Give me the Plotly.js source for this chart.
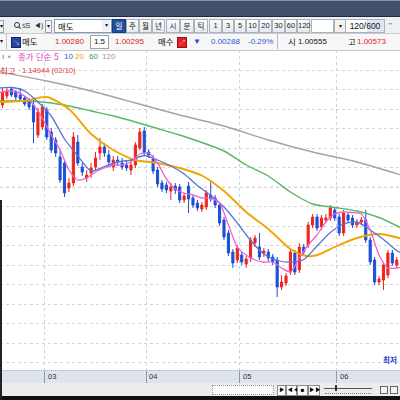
<!DOCTYPE html>
<html lang="ko"><head><meta charset="utf-8">
<script src="https://cdn.plot.ly/plotly-3.0.1.min.js"></script>
<style>
html,body{margin:0;padding:0;}
body{width:400px;height:400px;overflow:hidden;position:relative;background:#fff;font-family:"Liberation Sans",Arial,sans-serif;color:#111;}
.a{position:absolute;white-space:nowrap;}
.k{font-family:"Noto Sans CJK KR","Noto Sans",sans-serif;}
.btn{position:absolute;top:19px;height:12px;border:1px solid #aab2bd;background:linear-gradient(#fdfdfd,#e6e9ed);font-size:7.5px;line-height:12px;text-align:center;color:#222;}
.r2{position:absolute;top:35px;height:13px;line-height:13px;font-size:8px;white-space:nowrap;}
.bb{position:absolute;top:385px;height:9px;border:1px solid #8c8c8c;background:#fafafa;font-size:6px;line-height:9px;text-align:center;color:#000;}
</style></head><body>
<div class="a" style="left:0;top:370px;width:400px;height:12px;background:#dde4ed;border-top:1px dotted #aab4c0;border-bottom:1px solid #a9b1bb;"></div>
<div id="chart" class="a" style="left:0;top:0;width:400px;height:400px;"></div>

<!-- top bar -->
<div class="a" style="left:0;top:0;width:400px;height:15px;background:#435069;border-top:1px solid #8a95a8;border-bottom:1px solid #1e2b44;"></div>
<div class="a" style="left:0;top:17px;width:400px;height:16px;background:#eff0f2;"></div>
<div class="a" style="left:0;top:20px;width:3px;height:11px;border:1px solid #9aa3ae;border-left:none;background:#f4f4f4;font-size:6px;line-height:11px;">▾</div>
<div class="a" style="left:14px;top:22px;width:4px;height:4px;border:1.3px solid #333;border-radius:50%;"></div>
<div class="a" style="left:18px;top:27px;width:3px;height:1.3px;background:#333;transform:rotate(45deg);"></div>
<div class="a" style="left:22px;top:19px;font-size:8px;line-height:13px;color:#333;">ꜱ</div>
<div class="a" style="left:25px;top:19px;font-size:8px;line-height:13px;color:#333;">S</div>
<div class="a" style="left:34px;top:19px;font-size:7px;line-height:13px;color:#333;">◀)</div>
<div class="a" style="left:45px;top:20px;width:5px;height:11px;border:1px solid #9aa3ae;background:#f4f4f4;font-size:6px;line-height:11px;text-align:center;">▾</div>
<div class="a" style="left:54px;top:19px;width:56px;height:12px;border:1px solid #7f9db9;background:#fff;"></div>
<div class="a k" style="left:58px;top:19px;font-size:8.5px;line-height:14px;">매도</div>
<div class="a" style="left:102px;top:20px;width:8px;height:11px;background:#eef0f4;font-size:6px;line-height:11px;text-align:center;">▾</div>
<div class="btn k" style="left:112px;width:12px;background:#23509e;color:#fff;border-color:#183a78;">일</div>
<div class="btn k" style="left:126px;width:11px;">주</div>
<div class="btn k" style="left:139px;width:11px;">월</div>
<div class="btn k" style="left:152px;width:11px;">년</div>
<div class="btn k" style="left:166px;width:12px;">시</div>
<div class="btn k" style="left:180px;width:12px;">분</div>
<div class="btn k" style="left:194px;width:12px;">틱</div>
<div class="btn" style="left:209px;width:11px;">1</div>
<div class="btn" style="left:222px;width:10px;">3</div>
<div class="btn" style="left:234px;width:10px;">5</div>
<div class="btn" style="left:246px;width:11px;">10</div>
<div class="btn" style="left:259px;width:11px;">20</div>
<div class="btn" style="left:272px;width:11px;">30</div>
<div class="btn" style="left:285px;width:10px;">60</div>
<div class="btn" style="left:297px;width:11px;">120</div>
<div class="a" style="left:311px;top:19px;width:21px;height:12px;border:1px solid #aab2bd;background:#fff;"></div>
<div class="a" style="left:334px;top:19px;width:10px;height:12px;border:1px solid #aab2bd;background:#f2f2f2;font-size:6px;line-height:12px;text-align:center;">▾</div>
<div class="a" style="left:345px;top:19px;width:38px;height:12px;border:1px solid #aab2bd;background:linear-gradient(90deg,#fff 55%,#dfe6f1 56%);font-size:8.5px;line-height:12px;text-align:center;">120/600</div>
<div class="a" style="left:388px;top:19px;font-size:7px;line-height:13px;color:#333;">⁺⁺</div>

<!-- row 2 -->
<div class="a" style="left:0;top:33px;width:400px;height:16px;background:#f7f7f7;border-top:1px solid #c9cdd3;border-bottom:1px solid #c4c8ce;"></div>
<div class="r2" style="left:0;font-size:6px;">▾</div>
<div class="a" style="left:6px;top:34px;width:1px;height:15px;background:#c0c4ca;"></div>
<div class="a" style="left:11px;top:37px;width:8px;height:9px;background:#2346a8;border:1px solid #112a70;color:#fff;font-size:7px;line-height:9px;text-align:center;">↘</div>
<div class="r2 k" style="left:22px;font-size:8.5px;">매도</div>
<div class="r2" style="left:55px;color:#e02020;">1.00280</div>
<div class="a" style="left:90px;top:35px;width:17px;height:12px;border:1px solid #9aa2ad;background:#fff;font-size:8px;line-height:12px;text-align:center;">1.5</div>
<div class="r2" style="left:115px;color:#e02020;">1.00295</div>
<div class="r2 k" style="left:158px;font-size:8.5px;">매수</div>
<div class="a" style="left:177px;top:37px;width:8px;height:9px;background:#e02424;border:1px solid #a01010;color:#fff;font-size:7px;line-height:9px;text-align:center;">↗</div>
<div class="r2" style="left:193px;color:#1a4ad8;font-size:8px;">▼</div>
<div class="r2" style="left:211px;color:#2a5ad8;">0.00288</div>
<div class="r2" style="left:248px;color:#2a5ad8;">-0.29%</div>
<div class="a" style="left:277px;top:34px;width:1px;height:15px;background:#b8bcc2;"></div>
<div class="r2 k" style="left:288px;font-size:8.5px;">시</div>
<div class="r2" style="left:298px;">1.00555</div>
<div class="r2 k" style="left:348px;font-size:8.5px;">고</div>
<div class="r2" style="left:357px;color:#e02020;">1.00573</div>

<!-- bottom -->
<div class="a" style="left:0;top:383px;width:400px;height:13px;background:#ececec;"></div>
<div class="a" style="left:212px;top:385px;width:60px;height:8px;border:1px dotted #999;background:#fbfbfb;"></div>
<div class="bb" style="left:277px;width:7px;">▶</div>
<div class="bb" style="left:286px;width:9px;">◀◀</div>
<div class="bb" style="left:297px;width:9px;">■</div>
<div class="bb" style="left:308px;width:10px;">▶▶</div>
<div class="a" style="left:324px;top:388px;width:48px;height:1px;background:#555;"></div>
<div class="a" style="left:335px;top:385px;width:2px;height:6px;background:#333;"></div>
<div class="a" style="left:325px;top:393px;width:46px;height:0;border-top:1px dotted #777;"></div>
<div class="a" style="left:380px;top:386px;width:6px;height:6px;border:1px solid #666;background:#f4f4f4;"></div>
<div class="a" style="left:390px;top:386px;width:6px;height:6px;border:1px solid #666;background:#f4f4f4;"></div>
<div class="a" style="left:0;top:396px;width:400px;height:4px;background:#111;"></div>
<div class="a" style="left:0;top:200px;width:1.5px;height:200px;background:#222;"></div>

<script>
// ---- data (daily candles, index 0 = first visible day) ----
const monthTickIdx = [9.5, 32.5, 53.5, 75.5];
const monthLabels = ['03', '04', '05', '06'];

const open = [1.131,1.140,1.147,1.144,1.141,1.138,1.136,1.131,1.101,1.109,
1.126,1.104,1.096,1.079,1.073,1.048,1.053,1.094,1.069,1.058,
1.063,1.069,1.083,1.089,1.081,1.069,1.076,1.073,1.071,1.066,
1.071,1.088,1.105,1.084,1.077,1.066,1.053,1.051,1.045,1.050,
1.049,1.036,1.050,1.038,1.033,1.027,1.029,1.041,1.038,1.031,
1.016,1.003,0.984,0.976,0.981,0.972,0.978,0.993,0.989,0.983,
0.984,0.979,0.976,0.949,0.953,0.964,0.983,0.966,0.989,0.991,
1.011,1.019,1.009,1.016,1.018,1.026,1.019,1.003,1.021,1.018,
1.011,1.014,1.016,0.996,0.976,0.954,0.956,0.961,0.983,0.971];
const high = [1.148,1.149,1.149,1.146,1.148,1.140,1.138,1.136,1.128,1.132,
1.129,1.108,1.099,1.086,1.076,1.058,1.104,1.101,1.073,1.066,
1.073,1.084,1.098,1.093,1.086,1.080,1.080,1.078,1.075,1.076,
1.094,1.108,1.109,1.087,1.081,1.069,1.056,1.054,1.053,1.053,
1.052,1.043,1.054,1.041,1.036,1.034,1.046,1.054,1.041,1.034,
1.019,1.006,0.987,0.991,0.984,0.980,0.999,1.001,1.003,0.988,
0.987,0.982,0.979,0.961,0.963,0.987,0.986,0.993,0.992,1.014,
1.022,1.022,1.021,1.022,1.031,1.029,1.022,1.026,1.024,1.021,
1.017,1.019,1.026,0.999,0.979,0.960,0.974,0.986,0.986,0.979];
const low = [1.128,1.137,1.139,1.136,1.135,1.130,1.126,1.093,1.098,1.106,
1.096,1.083,1.079,1.053,1.039,1.044,1.050,1.070,1.060,1.054,
1.058,1.065,1.076,1.079,1.070,1.065,1.070,1.066,1.065,1.061,
1.068,1.086,1.080,1.078,1.062,1.049,1.044,1.043,1.036,1.042,
1.033,1.033,1.023,1.028,1.025,1.024,1.026,1.034,1.028,1.010,
0.996,0.980,0.968,0.973,0.971,0.968,0.974,0.989,0.976,0.979,
0.975,0.971,0.939,0.946,0.950,0.961,0.961,0.963,0.981,0.988,
1.008,1.005,1.006,1.013,1.015,1.015,1.000,1.000,1.013,1.008,
1.008,1.011,0.993,0.971,0.951,0.951,0.946,0.958,0.970,0.968];
const close = [1.144,1.145,1.141,1.139,1.137,1.132,1.129,1.114,1.124,1.129,
1.099,1.086,1.083,1.056,1.043,1.053,1.099,1.073,1.064,1.061,
1.068,1.078,1.089,1.083,1.074,1.076,1.074,1.069,1.068,1.071,
1.091,1.104,1.083,1.081,1.065,1.052,1.047,1.046,1.049,1.046,
1.036,1.040,1.037,1.031,1.028,1.031,1.043,1.037,1.031,1.013,
0.999,0.983,0.973,0.988,0.974,0.977,0.996,0.998,0.979,0.985,
0.978,0.974,0.949,0.954,0.960,0.984,0.964,0.989,0.984,1.011,
1.019,1.008,1.018,1.018,1.028,1.018,1.003,1.023,1.016,1.011,
1.014,1.016,0.996,0.974,0.954,0.957,0.971,0.983,0.973,0.976];

// moving averages (day index, value)
const ma5Idx = [-1,1,3,5,7,9,11,13,15,17,19,21,23,25,27,29,31,33,35,37,39,41,43,45,47,49,51,53,55,57,59,61,63,65,67,69,71,73,75,77,79,81,83,85,87,89,90];
const ma5 = [1.143,1.145,1.1445,1.140,1.131,1.118,1.101,1.086,1.066,1.056,
1.058,1.064,1.068,1.071,1.071,1.074,1.082,1.083,1.073,1.057,
1.047,1.043,1.041,1.038,1.038,1.033,1.011,0.989,0.981,0.976,
0.974,0.974,0.968,0.964,0.978,0.991,1.001,1.014,1.022,1.024,
1.0235,1.022,1.006,0.981,0.968,0.968,0.969];
const ma10Idx = [-1,2,5,8,11,14,17,20,23,26,29,32,35,38,41,44,47,50,53,56,59,62,65,68,71,74,77,80,83,86,89,90];
const ma10 = [1.148,1.1485,1.145,1.134,1.120,1.097,1.080,1.065,1.0695,1.074,
1.076,1.0805,1.076,1.070,1.062,1.0505,1.0405,1.029,1.013,0.9955,
0.982,0.9755,0.974,0.9765,0.990,1.0035,1.012,1.014,1.006,0.9965,
0.9855,0.983];
const ma20Idx = [-1,5,10,15,20,25,30,35,40,45,50,55,60,65,68,70,72,75,80,85,90];
const ma20 = [1.134,1.1352,1.139,1.127,1.102,1.086,1.076,1.073,1.068,1.0605,1.045,1.024,1.007,0.987,0.9805,0.980,0.9825,0.989,0.998,1.002,0.9975];
const ma60Idx = [-1,5,10,15,20,25,30,35,40,45,50,55,60,65,70,75,80,85,90];
const ma60 = [1.135,1.135,1.1335,1.130,1.125,1.120,1.114,1.1075,1.101,1.0935,1.085,1.071,1.060,1.044,1.032,1.0285,1.025,1.0185,1.008];
const ma120Idx = [-1,10,20,30,40,50,60,70,80,90];
const ma120 = [1.1645,1.155,1.145,1.133,1.121,1.110,1.096,1.084,1.074,1.061];
const priceLine = 1.049;

const RED = '#f0241c', BLUE = '#1f4fd6';
const dayIdx = open.map((_, i) => i);

function maLine(x, y, color, w) {
  return {type:'scatter', mode:'lines', x:x, y:y, line:{color:color, width:w, shape:'spline', smoothing:0.7}, hoverinfo:'skip'};
}

const traces = [
  {type:'candlestick', x:dayIdx, open:open, high:high, low:low, close:close,
   increasing:{line:{color:RED, width:1}, fillcolor:RED},
   decreasing:{line:{color:BLUE, width:1}, fillcolor:BLUE},
   whiskerwidth:0, hoverinfo:'skip'},
  maLine(ma120Idx, ma120, '#a3a3a3', 1.4),
  maLine(ma60Idx, ma60, '#55b865', 1.4),
  maLine(ma20Idx, ma20, '#f2a500', 1.9),
  maLine(ma10Idx, ma10, '#5574d8', 1.3),
  maLine(ma5Idx, ma5, '#ec62d6', 1.3)
];

const CJK = '"Noto Sans CJK KR", sans-serif';
const LAT = '"Liberation Sans", Arial, sans-serif';
const ann = [];
monthTickIdx.forEach((v, i) => ann.push({x:v, y:-0.019, xref:'x', yref:'paper', text:monthLabels[i], showarrow:false,
  xanchor:'left', yanchor:'middle', xshift:1, font:{size:7.5, color:'#333', family:LAT}}));
const legendParts = [
  ['ı', 0.0, '#666', LAT], ['▪', 0.014, '#999', LAT],
  ['종가 단순 5', 0.04, '#e040c8', CJK], ['10', 0.155, '#2a5ad8', LAT], ['20', 0.183, '#f0a000', LAT],
  ['60', 0.217, '#2ea043', LAT], ['120', 0.25, '#999999', LAT]
];
legendParts.forEach(p => ann.push({x:p[1], y:0.981, xref:'paper', yref:'paper', text:p[0], showarrow:false,
  xanchor:'left', yanchor:'middle', font:{size:p[3] === CJK ? 8.5 : 8, color:p[2], family:p[3]}}));
ann.push({x:-0.004, y:0.9375, xref:'paper', yref:'paper', text:'최고', showarrow:false, xanchor:'left', yanchor:'middle',
  font:{size:8.5, color:'#e03a3a', family:CJK}});
ann.push({x:0.049, y:0.9375, xref:'paper', yref:'paper', text:'1.14944 (02/10)', showarrow:false, xanchor:'left', yanchor:'middle',
  font:{size:7.6, color:'#e03a3a', family:LAT}});
ann.push({x:0.953, y:0.034, xref:'paper', yref:'paper', text:'<b>최저</b>', showarrow:false, xanchor:'left', yanchor:'middle',
  font:{size:7.5, color:'#2040c8', family:CJK}});

const layout = {
  width:400, height:400, margin:{l:0, r:0, t:50, b:30},
  paper_bgcolor:'rgba(0,0,0,0)', plot_bgcolor:'#ffffff', showlegend:false, boxgap:0.32,
  xaxis:{range:[-0.564, 89.73], tickvals:monthTickIdx, ticktext:monthLabels, showticklabels:false,
    ticks:'outside', ticklen:13, tickcolor:'#8f9aa8', tickwidth:1,
    showgrid:true, gridcolor:'#c4d5ea', griddash:'dot', gridwidth:1, zeroline:false, showline:false,
    rangeslider:{visible:false}, fixedrange:true},
  yaxis:{range:[0.866, 1.186], tick0:1.166, dtick:0.0195, showticklabels:false, ticks:'',
    showgrid:true, gridcolor:'#d4d4d4', griddash:'dot', gridwidth:1, zeroline:false, showline:false, fixedrange:true},
  shapes:[{type:'line', xref:'paper', x0:0, x1:1, yref:'y', y0:priceLine, y1:priceLine, layer:'below',
    line:{color:'#f7dcc0', width:1, dash:'dot'}}],
  annotations:ann
};

Plotly.newPlot('chart', traces, layout, {staticPlot:true, displayModeBar:false});
</script>
</body></html>
